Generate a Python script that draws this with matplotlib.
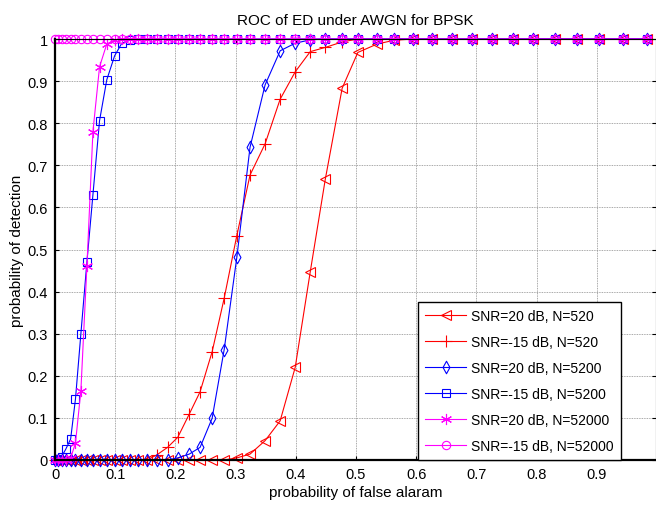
import matplotlib
matplotlib.use("Agg")
import matplotlib.pyplot as plt
from matplotlib.path import Path

plt.rcParams["font.family"] = ["Liberation Sans", "DejaVu Sans"]

# False-alarm probabilities (shared threshold sweep)
pf = [0, 0.005, 0.011, 0.018, 0.026, 0.034, 0.043, 0.053, 0.063, 0.074,
      0.086, 0.099, 0.111, 0.125, 0.138, 0.153, 0.169, 0.187, 0.204, 0.223,
      0.241, 0.261, 0.281, 0.302, 0.324, 0.349, 0.374, 0.399, 0.424, 0.449,
      0.477, 0.503, 0.535, 0.563, 0.595, 0.626, 0.659, 0.693, 0.726, 0.761,
      0.794, 0.831, 0.867, 0.904, 0.944, 0.983]

# Detection probabilities for each SNR / sample-count pair
pd_20_520 = [0]*23 + [0.005, 0.014, 0.046, 0.093, 0.22, 0.447, 0.667, 0.883, 0.968,
                      0.988, 0.997] + [1]*12
pd_m15_520 = [0]*16 + [0.012, 0.03, 0.054, 0.109, 0.162, 0.257, 0.384, 0.533, 0.677,
                       0.751, 0.857, 0.922, 0.970, 0.98, 0.993] + [1]*15
pd_20_5200 = [0]*18 + [0.005, 0.014, 0.03, 0.099, 0.262, 0.481, 0.743, 0.891, 0.972,
                       0.99, 0.998] + [1]*17
pd_m15_5200 = [0, 0.002, 0.008, 0.026, 0.05, 0.145, 0.30, 0.47, 0.63, 0.806,
               0.903, 0.96, 0.99, 0.998] + [1]*32
pd_20_52000 = [0, 0, 0, 0, 0.005, 0.04, 0.165, 0.46, 0.78, 0.934,
               0.988, 0.998] + [1]*34
pd_m15_52000 = [1]*46

# tall, narrow diamond and a six-spoke asterisk
diamond = Path([(0, 1), (0.55, 0), (0, -1), (-0.55, 0), (0, 1)],
               [Path.MOVETO, Path.LINETO, Path.LINETO, Path.LINETO, Path.CLOSEPOLY])
asterisk = (6, 2, 0)

series = [
    (pd_20_520, "r", "<", 7, "SNR=20 dB, N=520"),
    (pd_m15_520, "r", "+", 9, "SNR=-15 dB, N=520"),
    (pd_20_5200, "b", diamond, 9, "SNR=20 dB, N=5200"),
    (pd_m15_5200, "b", "s", 6, "SNR=-15 dB, N=5200"),
    (pd_20_52000, "m", asterisk, 8, "SNR=20 dB, N=52000"),
    (pd_m15_52000, "m", "o", 6, "SNR=-15 dB, N=52000"),
]
colors = {"r": (1, 0, 0), "b": (0, 0, 1), "m": (1, 0, 1)}

fig = plt.figure(figsize=(6.56, 5.10), dpi=100)
ax = fig.add_axes([55/656, 49/510, 601/656, 421/510])

for pdv, c, mk, ms, lab in series:
    ax.plot(pf, pdv, color=colors[c], lw=0.8, marker=mk, ms=ms,
            mfc="none", mec=colors[c], mew=0.8, label=lab, clip_on=False)

ax.set_xlim(0, 601/602)
ax.set_ylim(0, 1)
ax.set_xticks([i/10 for i in range(10)])
ax.set_xticklabels(["0"] + [f"0.{i}" for i in range(1, 10)])
ax.set_yticks([i/10 for i in range(11)])
ax.set_yticklabels(["0"] + [f"0.{i}" for i in range(1, 10)] + ["1"])
ax.tick_params(direction="in", length=3, labelsize=10.5, top=True, right=True,
               width=0.8, pad=5)
ax.grid(True, color="0.55", ls=(0, (1, 1)), lw=0.6)
for s in ("left", "bottom"):
    ax.spines[s].set_linewidth(1.6)
for s in ("top", "right"):
    ax.spines[s].set_linewidth(0.8)

ax.set_title("ROC of ED under AWGN for BPSK", fontsize=11, pad=11)
ax.set_xlabel("probability of false alaram", fontsize=11, labelpad=3)
ax.set_ylabel("probability of detection", fontsize=11, labelpad=3)

leg = ax.legend(loc="lower right", bbox_to_anchor=(566/601, 0), fontsize=10,
                frameon=True, fancybox=False, framealpha=1, edgecolor="k",
                handlelength=2.95, handletextpad=0.36, labelspacing=0.86,
                borderpad=0.52, borderaxespad=0)
leg.get_frame().set_linewidth(1.0)

fig.savefig("out.png", dpi=100)
